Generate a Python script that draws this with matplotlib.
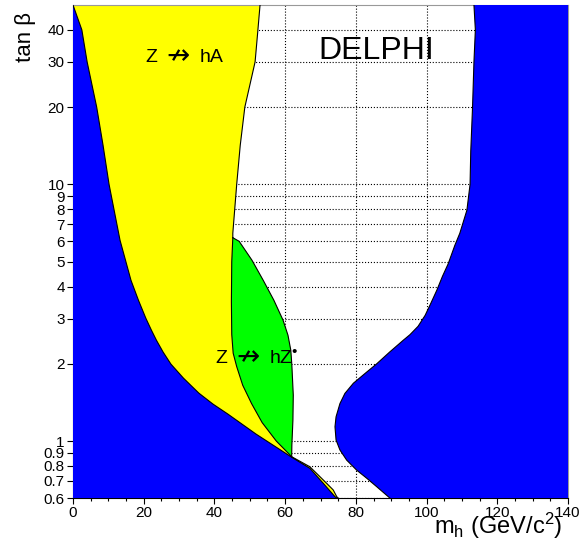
import numpy as np
import matplotlib
matplotlib.use('Agg')
import matplotlib.pyplot as plt

plt.rcParams['font.family'] = ['Liberation Sans', 'DejaVu Sans']
plt.rcParams['mathtext.fontset'] = 'custom'
plt.rcParams['mathtext.rm'] = 'Liberation Sans'
plt.rcParams['mathtext.it'] = 'Liberation Sans'

# left excluded (blue) boundary, (m_h, tan beta)
left_mh = [0, 2.5, 4.0, 6.7, 8.5, 10.2, 13.3, 16.4, 18.5, 20.6, 22.2, 23.6, 25.5, 27.7, 31.25, 35.6, 39.6, 43.8,
           51.75, 61.8, 67.0, 70.8, 74.1, 74.6]
left_tb = [50, 40, 30, 20, 14.2, 10, 6.06, 4.23, 3.54, 3.01, 2.70, 2.47, 2.22, 1.994, 1.758, 1.537, 1.393, 1.274,
           1.065, 0.866, 0.783, 0.684, 0.607, 0.6]

# yellow (Z -> hA) right edge, above the green region
yel_mh = [52.9, 52.3, 51.5, 48.6, 47.3, 46.3, 45.2, 45.2]
yel_tb = [50, 40, 30, 20, 14.2, 10, 6.45, 6.2]

# thin yellow sliver edge below the green region
sliv_mh = [61.85, 67.0, 70.8, 73.6, 74.6, 75.0]
sliv_tb = [0.869, 0.794, 0.705, 0.645, 0.607, 0.6]

# green (Z -> hZ*) region
grn_left_mh = [45.2, 44.9, 44.8, 44.9, 45.3, 46.3, 48.0, 50.5, 53.5, 57.5, 61.85]
grn_left_tb = [6.2, 5.0, 3.5, 2.6, 2.2, 1.95, 1.65, 1.40, 1.18, 1.0, 0.869]
grn_right_mh = [45.2, 47.0, 50.6, 53.8, 56.8, 59.4, 60.8, 61.6, 61.9, 62.3, 62.2, 61.9, 61.85]
grn_right_tb = [6.2, 6.0, 5.07, 4.23, 3.54, 2.96, 2.585, 2.26, 1.976, 1.51, 1.207, 0.965, 0.869]

# right excluded (blue) boundary
right_mh = [113.4, 113.8, 113.4, 113.0, 112.5, 112.3, 111.4, 109.4, 108.0, 106.1, 104.5, 102.9, 101.2, 99.6, 97.6,
            95.3, 93.4, 89.6, 85.9, 82.6, 79.3, 76.9, 75.5, 74.4, 74.1, 74.4, 75.5, 77.4, 80.2, 83.1, 85.9, 89.6]
right_tb = [50, 40, 30, 20, 13.5, 10, 7.93, 6.45, 5.79, 4.9, 4.385, 3.87, 3.44, 3.09, 2.80,
            2.597, 2.47, 2.225, 2.0, 1.834, 1.68, 1.533, 1.40, 1.243, 1.137, 1.009, 0.923, 0.843, 0.771, 0.716, 0.664, 0.6]

y_ticks = [0.6, 0.7, 0.8, 0.9, 1, 2, 3, 4, 5, 6, 7, 8, 9, 10, 20, 30, 40]
y_labels = ['0.6', '0.7', '0.8', '0.9', '1', '2', '3', '4', '5', '6', '7', '8', '9', '10', '20', '30', '40']
x_ticks = [0, 20, 40, 60, 80, 100, 120, 140]

XMIN, XMAX = 0, 140
YMIN, YMAX = 0.6, 50

BLUE = '#0000ff'
YELLOW = '#ffff00'
GREEN = '#00ff00'

fig = plt.figure(figsize=(5.87, 5.41), dpi=100)
ax = fig.add_axes([73 / 587, 1 - 498 / 541, (568 - 73) / 587, (498 - 5) / 541])
ax.set_yscale('log')
ax.set_xlim(XMIN, XMAX)
ax.set_ylim(YMIN, YMAX)

# yellow: everything left of yellow edge + green right edge + sliver
yx = [XMIN] + yel_mh + grn_right_mh[1:] + sliv_mh[1:] + [XMIN]
yy = [YMAX] + yel_tb + grn_right_tb[1:] + sliv_tb[1:] + [YMIN]
ax.fill(yx, yy, color=YELLOW, zorder=1, lw=0)

# green
gx = grn_left_mh + grn_right_mh[::-1]
gy = grn_left_tb + grn_right_tb[::-1]
ax.fill(gx, gy, color=GREEN, zorder=2, lw=0)

# blue left
bx = left_mh + [XMIN]
by = left_tb + [YMIN]
ax.fill(bx, by, color=BLUE, zorder=3, lw=0)

# blue right
rx = right_mh + [XMAX, XMAX]
ry = right_tb + [YMIN, YMAX]
ax.fill(rx, ry, color=BLUE, zorder=3, lw=0)

# outlines
lk = dict(color='black', lw=0.8, zorder=4, solid_joinstyle='round')
ax.plot(left_mh, left_tb, **lk)
ax.plot(yel_mh, yel_tb, **lk)
ax.plot(sliv_mh, sliv_tb, **lk)
ax.plot(grn_left_mh, grn_left_tb, **lk)
ax.plot(grn_right_mh, grn_right_tb, **lk)
ax.plot(right_mh, right_tb, **lk)

ax.grid(True, which='major', color='black', linestyle=':', linewidth=0.8)
ax.set_axisbelow(True)

ax.set_yticks(y_ticks)
ax.set_yticklabels(y_labels)
ax.yaxis.set_minor_locator(matplotlib.ticker.NullLocator())
ax.set_xticks(x_ticks)
ax.set_xticks(np.arange(0, 141, 5), minor=True)
ax.tick_params(axis='both', which='major', direction='out', length=4, width=0.8, labelsize=11, pad=2)
ax.tick_params(axis='x', which='minor', direction='out', length=2, width=0.8)

for s in ['top', 'right']:
    ax.spines[s].set_color('#999999')
for s in ['left', 'bottom']:
    ax.spines[s].set_color('black')

ax.text(85.7, 33, 'DELPHI', fontsize=23, ha='center', va='center', zorder=5)

# Z -/-> hA
ax.text(20.4, 31.3, 'Z', fontsize=14, ha='left', va='center', zorder=5)
ax.text(29.6, 31.3, '\u219b', fontsize=20, ha='center', va='center', zorder=5)
ax.text(35.7, 31.3, 'hA', fontsize=14, ha='left', va='center', zorder=5)

# Z -/-> hZ*
ax.text(40.2, 2.1, 'Z', fontsize=14, ha='left', va='center', zorder=5)
ax.text(49.4, 2.1, '\u219b', fontsize=20, ha='center', va='center', zorder=5)
ax.text(55.5, 2.1, 'hZ', fontsize=14, ha='left', va='center', zorder=5)
ax.text(62.6, 2.22, '\u2022', fontsize=11, ha='center', va='center', zorder=5)

fig.text(562 / 587, 1 - 526 / 541, 'm$_\\mathregular{h}$ (GeV/c$^\\mathregular{2}$)', fontsize=17,
         ha='right', va='center')
fig.text(25 / 587, 1 - 12 / 541, 'tan \u03b2', fontsize=16, rotation=90, ha='center', va='top')

fig.savefig('out.png', dpi=100)
